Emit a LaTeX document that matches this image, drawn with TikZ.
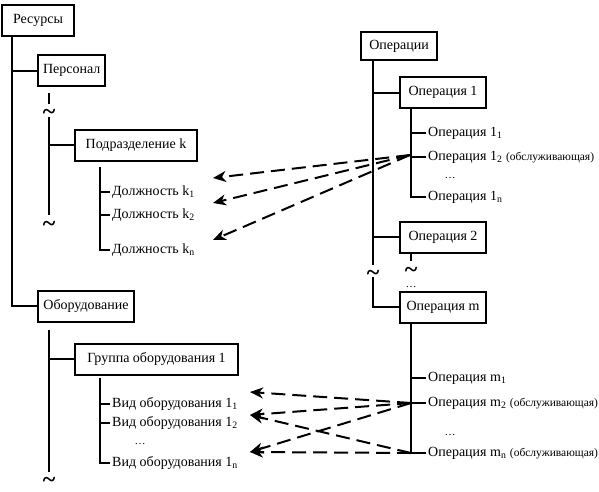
\documentclass[tikz,border=0pt]{standalone}
\usepackage{fontspec}
\setmainfont{Liberation Serif}
\usetikzlibrary{arrows.meta, positioning}

\begin{document}
\begin{tikzpicture}[
    x=1pt, y=-1pt,
    box/.style={draw=black, line width=2pt, anchor=west, minimum width=#1, minimum height=31pt, inner xsep=5pt, font=\fontsize{14}{16}\selectfont},
    item/.style={anchor=west, inner xsep=2pt, inner ysep=0pt, font=\fontsize{14}{16}\selectfont},
    tree/.style={line width=2pt},
    link/.style={line width=2pt, dash pattern=on 14pt off 7pt, -{Stealth[length=13pt, width=11pt, inset=4pt]}},
    tld/.style={inner sep=0pt, text height=4pt, text depth=0pt, yshift=-7pt, font=\fontsize{24}{24}\selectfont\bfseries},
    dots/.style={inner sep=0pt, text height=2pt, text depth=0pt, font=\fontsize{11}{11}\selectfont}
]
    \def\small{\fontsize{11.5}{12}\selectfont}
    \useasboundingbox (0,0) rectangle (599,491);

    % resources tree
    \node[box=72] (res) at (1,20.5) {Ресурсы};
    \node[box=64] (pers) at (37,70.5) {Персонал};
    \node[box=122] (podr) at (74,145) {Подразделение k};
    \node[box=96] (obor) at (37,306) {Оборудование};
    \node[box=163] (grp) at (74,359) {Группа оборудования 1};
    \draw[tree] ([xshift=11pt]res.south west) |- (pers.west);
    \draw[tree] ([xshift=11pt]res.south west) |- (obor.west);

    % personnel
    \coordinate (pA) at (49,93);
    \coordinate (pB) at (49,104);
    \coordinate (pC) at (49,117);
    \coordinate (pD) at (49,215);
    \node[tld] (tP1) at (49,110) {\textasciitilde};
    \node[tld] (tP2) at (49,222) {\textasciitilde};
    \draw[tree] (pA) -- (pB);
    \draw[tree] (pC) |- (podr.west);
    \draw[tree] (pC) -- (pD);

    \coordinate (dtop) at (100,167);
    \foreach \n/\y/\s in {d1/192/1, d2/215/2, dn/250/n} {
        \node[item] (\n) at (110,\y) {Должность k\textsubscript{\s}};
        \draw[tree] (dtop) |- (\n.west);
    }

    % equipment
    \coordinate (eA) at (49,330);
    \coordinate (eB) at (49,472);
    \node[tld] (tE) at (49,478) {\textasciitilde};
    \draw[tree] (eA) |- (grp.west);
    \draw[tree] (eA) -- (eB);

    \coordinate (vtop) at (100,378);
    \foreach \n/\y/\s in {v1/404/1, v2/423/2, vn/463/n} {
        \node[item] (\n) at (110,\y) {Вид оборудования 1\textsubscript{\s}};
        \draw[tree] (vtop) |- (\n.west);
    }
    \node[dots] (vdots) at (140,443) {\dots};

    % operations tree
    \node[box=76, minimum height=28pt] (ops) at (360,46) {Операции};
    \node[box=86] (op1) at (399,92.5) {Операция 1};
    \node[box=86] (op2) at (399,237) {Операция 2};
    \node[box=86] (opm) at (399,307) {Операция m};
    \coordinate (oA) at (373,265);
    \coordinate (oB) at (373,277);
    \node[tld] (tO) at (373,271) {\textasciitilde};
    \draw[tree] ([xshift=13pt]ops.south west) |- (op1.west);
    \draw[tree] ([xshift=13pt]ops.south west) |- (op2.west);
    \draw[tree] ([xshift=13pt]ops.south west) -- (oA);
    \draw[tree] (oB) |- (opm.west);

    \foreach \n/\y/\t in {o11/133/{Операция 1\textsubscript{1}},
                          o12/157/{Операция 1\textsubscript{2} {\small(обслуживающая)}},
                          o1n/197/{Операция 1\textsubscript{n}}} {
        \node[item] (\n) at (426,\y) {\t};
        \draw[tree] ([xshift=12pt]op1.south west) |- (\n.west);
    }
    \node[dots] (odots1) at (450,177) {\dots};

    \coordinate (o2A) at (411,261);
    \node[tld] (tO2) at (411,268) {\textasciitilde};
    \node[dots] (odots2) at (411,286) {\dots};
    \draw[tree] ([xshift=12pt]op2.south west) -- (o2A);

    \foreach \n/\y/\t in {om1/378/{Операция m\textsubscript{1}},
                          om2/403/{Операция m\textsubscript{2} {\small(обслуживающая)}},
                          omn/453/{Операция m\textsubscript{n} {\small(обслуживающая)}}} {
        \node[item] (\n) at (426,\y) {\t};
        \draw[tree] ([xshift=12pt]opm.south west) |- (\n.west);
    }
    \node[dots] (odots3) at (450,434) {\dots};

    % links
    \coordinate (j1) at (410,155);
    \coordinate (a1) at (213,178);
    \coordinate (a2) at (213,203);
    \coordinate (a3) at (213,240);
    \foreach \t in {a1,a2,a3}
        \draw[link] (j1) -- (\t);

    \coordinate (j2) at (411,403);
    \coordinate (j3) at (411,453);
    \coordinate (b1) at (250,392);
    \coordinate (b2) at (250,415);
    \coordinate (b3) at (250,452);
    \foreach \s/\t in {j2/b1, j2/b2, j2/b3, j3/b2, j3/b3}
        \draw[link] (\s) -- (\t);
\end{tikzpicture}
\end{document}
